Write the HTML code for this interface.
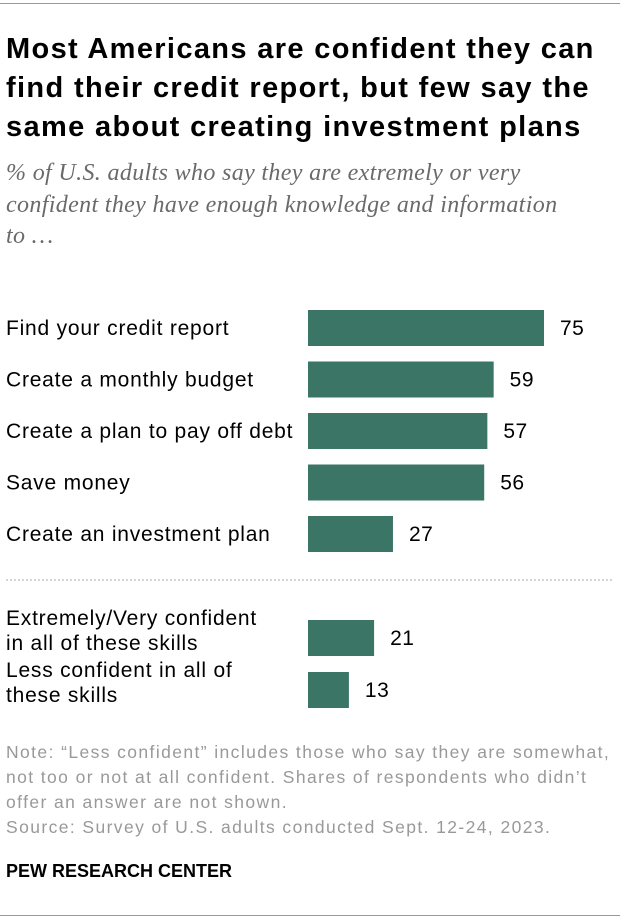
<!DOCTYPE html>
<html><head><meta charset="utf-8"><style>
body{margin:0;width:620px;height:920px;background:#fff;font-family:"Liberation Sans",sans-serif;position:relative;overflow:hidden}
.rule{position:absolute;left:0;width:620px;height:1px;background:#999}
#title{position:absolute;left:6px;top:30px;font-size:29px;letter-spacing:1.35px;font-weight:bold;line-height:39px;color:#000;margin:0;width:640px;white-space:nowrap}
#sub{position:absolute;left:6px;top:158px;font-family:"Liberation Serif",serif;font-style:italic;font-size:24px;letter-spacing:0.35px;line-height:31.5px;color:#6a6a6a;width:640px;white-space:nowrap}
#note{position:absolute;left:6px;top:740px;font-size:17.5px;letter-spacing:1.4px;line-height:25px;color:#999;width:640px;white-space:nowrap}
#logo{position:absolute;left:6px;top:861px;font-size:18px;font-weight:bold;color:#000}
</style></head><body>
<div class="rule" style="top:3px"></div>
<div id="title">Most Americans are confident they can<br>find their credit report, but few say the<br>same about creating investment plans</div>
<div id="sub">% of U.S. adults who say they are extremely or very<br>confident they have enough knowledge and information<br>to …</div>
<svg id="chart" width="620" height="920" style="position:absolute;left:0;top:0"></svg>
<div id="note">Note: “Less confident” includes those who say they are somewhat,<br>not too or not at all confident. Shares of respondents who didn’t<br>offer an answer are not shown.<br>Source: Survey of U.S. adults conducted Sept. 12-24, 2023.</div>
<div id="logo">PEW RESEARCH CENTER</div>
<div class="rule" style="top:915px"></div>
<script>
const categories=["Find your credit report","Create a monthly budget","Create a plan to pay off debt","Save money","Create an investment plan"];
const values=[75,59,57,56,27];
const summaryCategories=[["Extremely/Very confident","in all of these skills"],["Less confident in all of","these skills"]];
const summaryValues=[21,13];
const NS="http://www.w3.org/2000/svg";
const svg=document.getElementById('chart');
const x0=308,scale=236/75;
const xw=v=>v*scale;
function mk(t,a){const e=document.createElementNS(NS,t);for(const k in a)e.setAttribute(k,a[k]);svg.appendChild(e);return e;}
function row(lines,v,y,i,kind){
  const r=mk('rect',{x:x0,y:y,width:xw(v),height:36,fill:'#3a7566'});
  
  
  const t=mk('text',{x:x0+xw(v)+16,y:y+25,'font-size':21,'letter-spacing':0.5,fill:'#000'});t.textContent=v;
  
  
  const ls=Array.isArray(lines)?lines:[lines];
  const start=ls.length===1?y+25:y+5;
  ls.forEach((s,j)=>{const l=mk('text',{x:6,y:start+j*25,'font-size':21,'letter-spacing':0.78,fill:'#000'});l.textContent=s;
    
    });
}
values.forEach((v,i)=>row(categories[i],v,310+i*51.5,i,'skill'));
const d=mk('line',{x1:6,x2:614,y1:580,y2:580,stroke:'#aaa','stroke-dasharray':'2,2','stroke-width':1});


summaryValues.forEach((v,i)=>row(summaryCategories[i],v,620+i*52,i,'summary'));
</script>
</body></html>
